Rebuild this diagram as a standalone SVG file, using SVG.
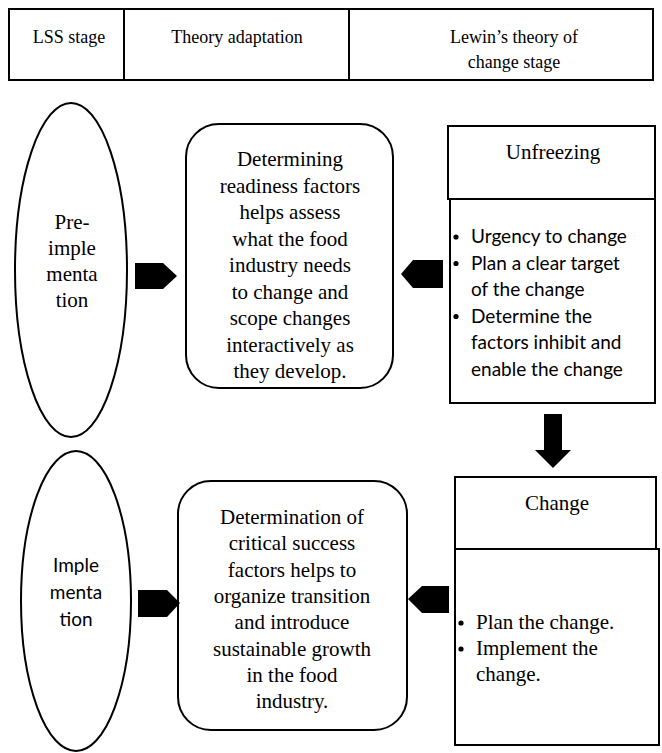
<svg xmlns="http://www.w3.org/2000/svg" width="662" height="753" viewBox="0 0 662 753">
<style>
.ln{fill:none;stroke:#000;stroke-width:2}
.bk{fill:#fff;stroke:#000;stroke-width:2}
.ser{font-family:"Liberation Serif","Times New Roman",serif;font-size:21px;fill:#000}
.hdr{font-family:"Liberation Serif","Times New Roman",serif;font-size:18px;fill:#000}
.sans{font-family:Lato,"Open Sans",sans-serif;font-size:19px;fill:#000}
.c{text-anchor:middle}
.arrow{fill:#000;stroke:none}
</style>
<g id="header">
<rect class="ln" x="9" y="9" width="644" height="71"/>
<line class="ln" x1="124" y1="9" x2="124" y2="80" stroke-width="3"/>
<line class="ln" x1="349" y1="9" x2="349" y2="80" stroke-width="3"/>
<text class="hdr c" x="69" y="43">LSS stage</text>
<text class="hdr c" x="237" y="43">Theory adaptation</text>
<text class="hdr c" x="514" y="43">Lewin’s theory of</text>
<text class="hdr c" x="514" y="68">change stage</text>
</g>
<g id="pre-implementation">
<ellipse class="bk" cx="71" cy="270" rx="56" ry="167"/>
<text class="ser c" x="72" y="229">Pre-</text>
<text class="ser c" x="72" y="255">imple</text>
<text class="ser c" x="72" y="281">menta</text>
<text class="ser c" x="72" y="307">tion</text>
</g>
<g id="readiness">
<rect class="bk" x="186" y="124" width="207" height="264" rx="33" ry="33"/>
<g class="ser c">
<text x="290" y="166">Determining</text>
<text x="290" y="192.5">readiness factors</text>
<text x="290" y="219">helps assess</text>
<text x="290" y="245.5">what the food</text>
<text x="290" y="272">industry needs</text>
<text x="290" y="298.5">to change and</text>
<text x="290" y="325">scope changes</text>
<text x="290" y="351.5">interactively as</text>
<text x="290" y="378">they develop.</text>
</g>
</g>
<g id="unfreezing">
<rect class="bk" x="448" y="126" width="207" height="73"/>
<rect class="bk" x="450" y="199" width="205" height="204"/>
<text class="ser c" x="553" y="159">Unfreezing</text>
<g class="sans">
<circle cx="456" cy="237" r="2.6"/>
<text x="471" y="243">Urgency to change</text>
<circle cx="456" cy="263.5" r="2.6"/>
<text x="471" y="269.5">Plan a clear target</text>
<text x="471" y="296">of the change</text>
<circle cx="456" cy="316.5" r="2.6"/>
<text x="471" y="322.5">Determine the</text>
<text x="471" y="349">factors inhibit and</text>
<text x="471" y="375.5">enable the change</text>
</g>
</g>
<g id="implementation">
<ellipse class="bk" cx="76" cy="601" rx="55" ry="150"/>
<text class="sans c" x="76" y="572">Imple</text>
<text class="sans c" x="76" y="599">menta</text>
<text class="sans c" x="76" y="626">tion</text>
</g>
<g id="success-factors">
<rect class="bk" x="178" y="481" width="229" height="249" rx="33" ry="33"/>
<g class="ser c">
<text x="292" y="524">Determination of</text>
<text x="292" y="550.3">critical success</text>
<text x="292" y="576.6">factors helps to</text>
<text x="292" y="602.9">organize transition</text>
<text x="292" y="629.2">and introduce</text>
<text x="292" y="655.5">sustainable growth</text>
<text x="292" y="681.8">in the food</text>
<text x="292" y="708.1">industry.</text>
</g>
</g>
<g id="change">
<rect class="bk" x="455" y="477" width="201" height="72"/>
<rect class="bk" x="455" y="549" width="204" height="196"/>
<text class="ser c" x="557" y="510">Change</text>
<g class="ser">
<circle cx="461" cy="623" r="2.6"/>
<text x="476" y="629">Plan the change.</text>
<circle cx="461" cy="649" r="2.6"/>
<text x="476" y="655">Implement the</text>
<text x="476" y="681">change.</text>
</g>
</g>
<g id="connectors">
<polygon class="arrow" points="135,263 163,263 177,276 163,289 135,289"/>
<polygon class="arrow" points="443,260 413,260 401,274 413,288 443,288"/>
<polygon class="arrow" points="544,414 562,414 562,450 571,450 553,468 535,450 544,450"/>
<polygon class="arrow" points="138,590 167,590 180,603 167,617 138,617"/>
<polygon class="arrow" points="449,586 422,586 408,599 422,613 449,613"/>
</g>
</svg>
